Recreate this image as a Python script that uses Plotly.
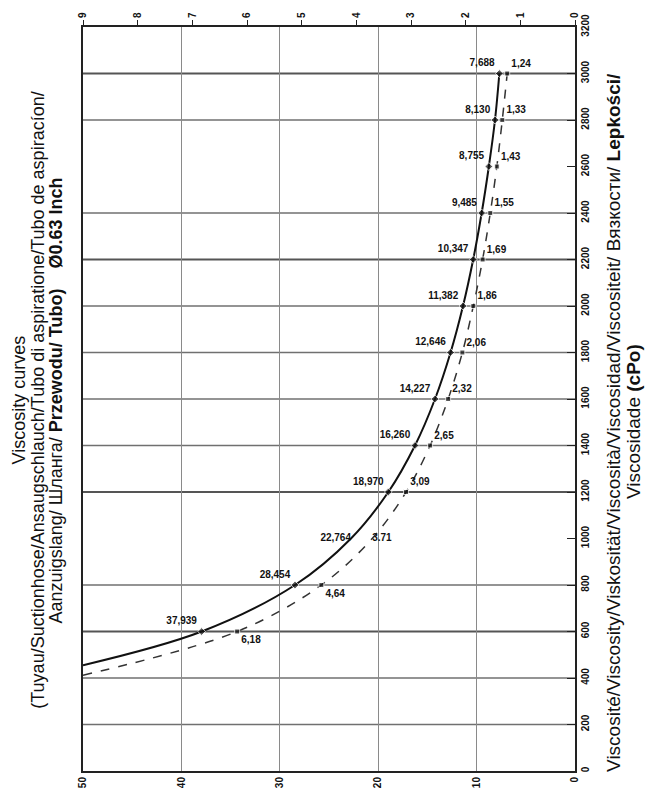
import plotly.graph_objects as go

# Viscosity (cPo) at each measured point
viscosity = [600, 800, 1000, 1200, 1400, 1600, 1800, 2000, 2200, 2400, 2600, 2800, 3000]

# Solid curve, read on the 0-50 scale
solid_vals = [37.939, 28.454, 22.764, 18.970, 16.260, 14.227, 12.646, 11.382, 10.347, 9.485, 8.755, 8.130, 7.688]
solid_labels = ["37,939", "28,454", "22,764", "18,970", "16,260", "14,227", "12,646",
                "11,382", "10,347", "9,485", "8,755", "8,130", "7,688"]

# Dashed curve, read on the 0-9 scale
dashed_vals = [6.18, 4.64, 3.71, 3.09, 2.65, 2.32, 2.06, 1.86, 1.69, 1.55, 1.43, 1.33, 1.24]
dashed_labels = ["6,18", "4,64", "3.71", "3,09", "2,65", "2,32", "2,06",
                 "1,86", "1,69", "1,55", "1,43", "1,33", "1,24"]

# Where each curve leaves the plotting frame on the low-viscosity side
solid_edge_visc, solid_edge_val = 455, 50.0
dashed_edge_visc, dashed_edge_val = 412, 9.0

# Horizontal reference lines (viscosity levels)
heavy_levels = [600, 1200, 2200, 3000]
light_levels = [200, 400, 800, 1400, 1600, 1800, 2000, 2400, 2800]

bottom_ticks = [0, 10, 20, 30, 40, 50]
top_ticks = list(range(0, 10))
visc_ticks = list(range(0, 3201, 200))

# Rotated side titles, one entry per text line
left_title_lines = [
    "Viscosity curves",
    "(Tuyau/Suctionhose/Ansaugschlauch/Tubo di aspiratione/Tubo de aspiracíon/",
    "Aanzuigslang/ Шланга/ <b>Przewodu/ Tubo)</b>\u00a0\u00a0\u00a0\u00a0<b>Ø0.63 Inch</b>",
]
right_title_lines = [
    "Viscosité/Viscosity/Viskosität/Viscosità/Viscosidad/Viscositeit/ Вязкости/ <b>Lepkości/</b>",
    "Viscosidade <b>(cPo)</b>",
]

label_font = dict(family="Liberation Sans Narrow, Liberation Sans, Arial, sans-serif",
                  size=10, color="#111", weight="bold")
left_title_font = dict(family="Liberation Sans, Arial, sans-serif", size=18, color="#111")
right_title_font = dict(family="Liberation Sans, Arial, sans-serif", size=19, color="#111")
tick_font = dict(family="Liberation Sans Narrow, Liberation Sans, Arial, sans-serif",
                 size=10, color="#111", weight="bold")

fig = go.Figure()

# Smooth curve lines
fig.add_trace(go.Scatter(
    x=[solid_edge_val] + solid_vals, y=[solid_edge_visc] + viscosity,
    mode="lines", line=dict(color="#111", width=2, shape="spline"),
    xaxis="x", yaxis="y", hoverinfo="skip", showlegend=False))
fig.add_trace(go.Scatter(
    x=[dashed_edge_val] + dashed_vals, y=[dashed_edge_visc] + viscosity,
    mode="lines", line=dict(color="#333", width=1.5, dash="dash", shape="spline"),
    xaxis="x2", yaxis="y", hoverinfo="skip", showlegend=False))

# Marked points with value labels
marker_sizes = [0 if v == 1000 else 6 for v in viscosity]
solid_pos = ["middle left" if v == 1000 else "top left" for v in viscosity]
dashed_pos = ["bottom right" if v in (600, 800) else
              "middle right" if v == 1000 else "top right" for v in viscosity]

fig.add_trace(go.Scatter(
    x=solid_vals, y=viscosity, mode="markers+text", text=solid_labels,
    textposition=solid_pos, textfont=label_font,
    marker=dict(symbol="diamond", size=marker_sizes, color="#111"),
    xaxis="x", yaxis="y", showlegend=False))
fig.add_trace(go.Scatter(
    x=dashed_vals, y=viscosity, mode="markers+text", text=dashed_labels,
    textposition=dashed_pos, textfont=label_font,
    marker=dict(symbol="square", size=[s - 1 if s else 0 for s in marker_sizes], color="#111"),
    xaxis="x2", yaxis="y", showlegend=False))

# Reference lines across the frame
shapes = []
for lv in light_levels:
    shapes.append(dict(type="line", xref="x", yref="y", x0=50, x1=0, y0=lv, y1=lv,
                       line=dict(color="#707070", width=1.3), layer="below"))
for lv in heavy_levels:
    shapes.append(dict(type="line", xref="x", yref="y", x0=50, x1=0, y0=lv, y1=lv,
                       line=dict(color="#555555", width=2), layer="below"))

# Side titles: paper x of each line centre, paper y of each line centre
left_x = [-0.130, -0.091, -0.053]
left_y = [0.498, 0.498, 0.498]
right_x = [1.077, 1.118]
right_y = [0.469, 0.469]
annotations = []
for txt, xp, yp in zip(left_title_lines, left_x, left_y):
    annotations.append(dict(text=txt, xref="paper", yref="paper", x=xp, y=yp,
                            xanchor="center", yanchor="middle", textangle=-90,
                            showarrow=False, font=left_title_font))
for txt, xp, yp in zip(right_title_lines, right_x, right_y):
    annotations.append(dict(text=txt, xref="paper", yref="paper", x=xp, y=yp,
                            xanchor="center", yanchor="middle", textangle=-90,
                            showarrow=False, font=right_title_font))

fig.update_layout(
    width=654, height=795,
    margin=dict(l=83, r=79, t=27, b=24),
    paper_bgcolor="white", plot_bgcolor="white",
    shapes=shapes,
    annotations=annotations,
    xaxis=dict(range=[50, 0], tickvals=bottom_ticks, tickangle=-90, tickfont=tick_font,
               showgrid=True, gridcolor="#8a8a8a", gridwidth=1, zeroline=False,
               showline=True, linecolor="#222", linewidth=2, ticks="", automargin=False),
    xaxis2=dict(range=[9, 0], tickvals=top_ticks, overlaying="x", side="top",
                tickangle=-90, tickfont=tick_font, showgrid=False, zeroline=False,
                showline=True, linecolor="#222", linewidth=2, ticks="outside", ticklen=5,
                tickcolor="#222", automargin=False),
    yaxis=dict(range=[0, 3200], tickvals=visc_ticks, side="right", tickangle=-90,
               tickfont=tick_font, showgrid=False, zeroline=False,
               showline=True, linecolor="#222", linewidth=2, mirror=True,
               ticks="inside", ticklen=8, tickcolor="#222", automargin=False),
)

fig.write_html("out.html")
